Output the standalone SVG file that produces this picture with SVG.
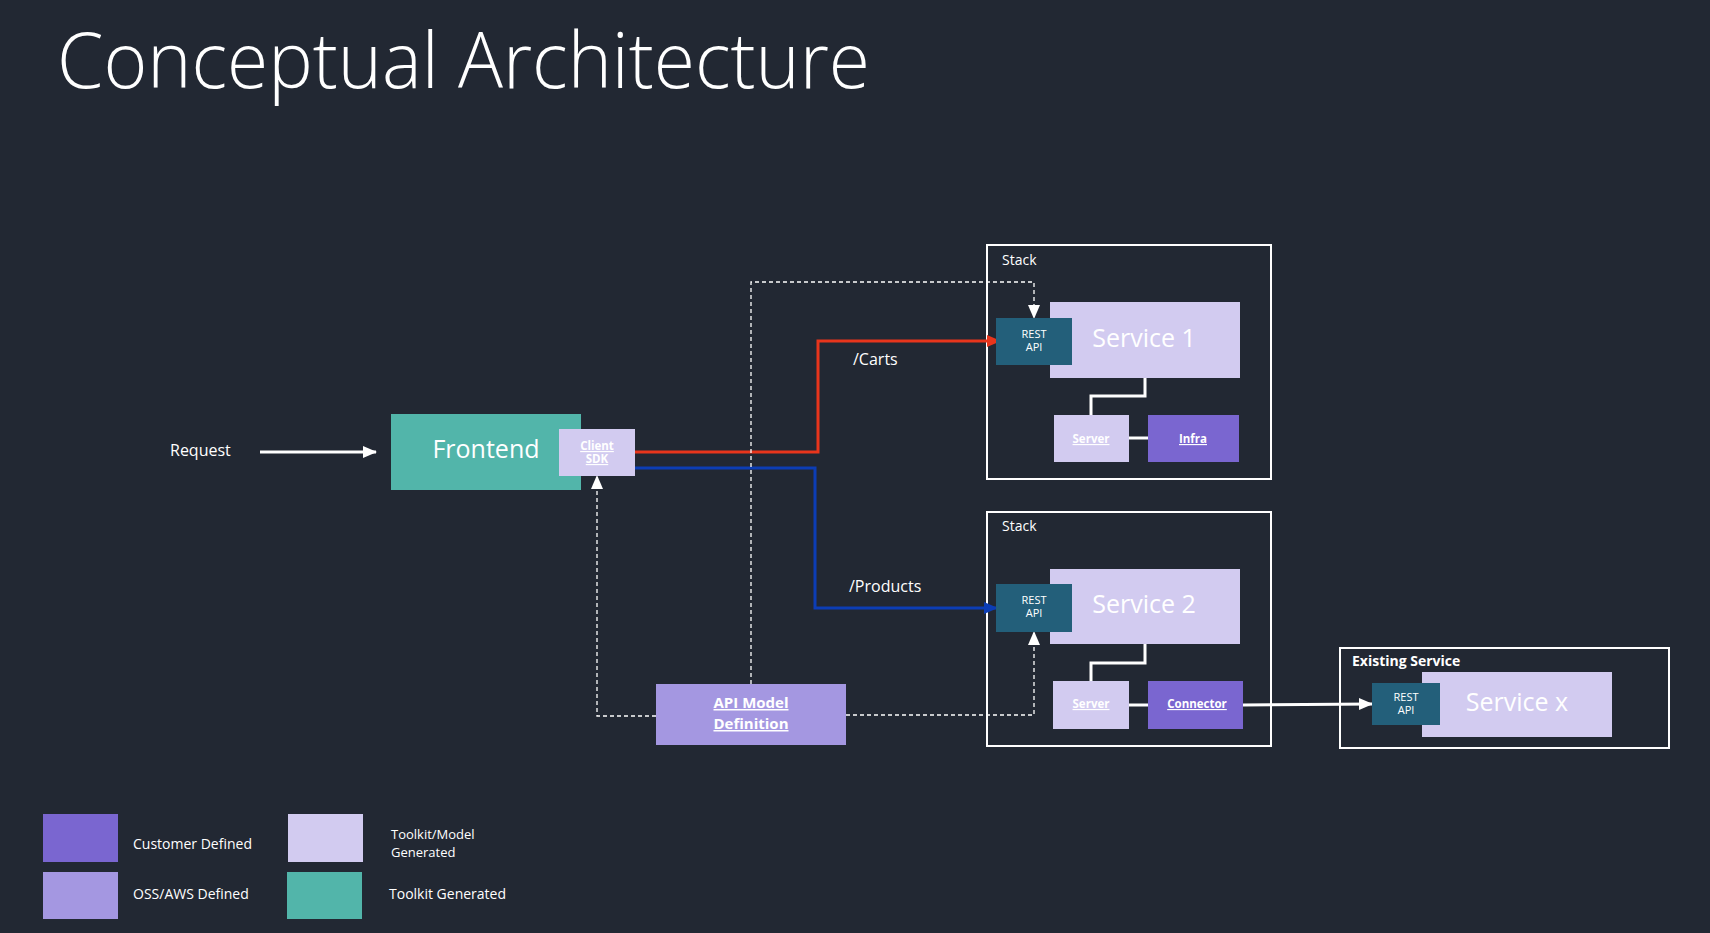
<svg xmlns="http://www.w3.org/2000/svg" width="1710" height="933" viewBox="0 0 1710 933">
<defs>
<style>
text{font-family:"Open Sans","Noto Sans","Liberation Sans",sans-serif;fill:#ffffff}
.title{font-size:78px;font-weight:300}
.big{font-size:25px;text-anchor:middle}
.lbl{font-size:16px}
.small{font-size:14px}
.api{font-size:11px;text-anchor:middle}
.ul{font-size:11.5px;font-weight:700;text-anchor:middle;text-decoration:underline}
.stack{fill:none;stroke:#ffffff;stroke-width:2}
.dash{fill:none;stroke:#ffffff;stroke-width:1.3;stroke-dasharray:4 3}
.wl{fill:none;stroke:#ffffff;stroke-width:3}
.gen{fill:#d2cbf0}
.cust{fill:#7a66d0}
.oss{fill:#a497e1}
.tk{fill:#52b5aa}
.rest{fill:#235f7a}
</style>
<marker id="aw" markerUnits="userSpaceOnUse" markerWidth="14" markerHeight="14" viewBox="0 0 14 14" refX="13" refY="7" orient="auto"><path d="M0,1 L14,7 L0,13 Z" fill="#ffffff"/></marker>
<marker id="ar" markerUnits="userSpaceOnUse" markerWidth="14" markerHeight="14" viewBox="0 0 14 14" refX="13" refY="7" orient="auto"><path d="M0,1 L14,7 L0,13 Z" fill="#e8351c"/></marker>
<marker id="ab" markerUnits="userSpaceOnUse" markerWidth="14" markerHeight="14" viewBox="0 0 14 14" refX="13" refY="7" orient="auto"><path d="M0,1 L14,7 L0,13 Z" fill="#0c3db5"/></marker>
</defs>
<rect width="1710" height="933" fill="#222833"/>
<text class="title" x="57" y="88" textLength="813" lengthAdjust="spacingAndGlyphs">Conceptual Architecture</text>

<g id="stack1"><rect class="stack" x="987" y="245" width="284" height="234"/><text class="small" x="1002" y="265">Stack</text></g>
<g id="stack2"><rect class="stack" x="987" y="512" width="284" height="234"/><text class="small" x="1002" y="531">Stack</text></g>
<g id="existing"><rect class="stack" x="1340" y="648" width="329" height="100"/><text class="small" x="1352" y="666" font-weight="700">Existing Service</text></g>

<g id="connectors">
<line class="wl" x1="260" y1="452" x2="376" y2="452" marker-end="url(#aw)"/>
<polyline fill="none" stroke="#e8351c" stroke-width="3" points="635,452 818,452 818,341 1000,341" marker-end="url(#ar)"/>
<polyline fill="none" stroke="#0c3db5" stroke-width="3" points="635,468 815,468 815,608 997,608" marker-end="url(#ab)"/>
<polyline class="dash" points="751,684 751,282 1034,282 1034,318" marker-end="url(#aw)"/>
<polyline class="dash" points="656,716 597,716 597,476" marker-end="url(#aw)"/>
<polyline class="dash" points="846,715 1034,715 1034,632" marker-end="url(#aw)"/>
<polyline class="wl" points="1145,378 1145,396 1091,396 1091,415"/>
<line class="wl" x1="1129" y1="438" x2="1148" y2="438"/>
<polyline class="wl" points="1145,644 1145,663 1091,663 1091,681"/>
<line class="wl" x1="1129" y1="705" x2="1148" y2="705"/>
<line class="wl" x1="1243" y1="705" x2="1372" y2="704" marker-end="url(#aw)"/>
</g>

<g id="request"><text class="lbl" x="170" y="456">Request</text></g>
<g id="carts-label"><text class="lbl" x="853" y="365">/Carts</text></g>
<g id="products-label"><text class="lbl" x="849" y="592">/Products</text></g>

<g id="frontend"><rect class="tk" x="391" y="414" width="190" height="76"/><text class="big" x="486" y="458">Frontend</text></g>
<g id="client-sdk"><rect class="gen" x="559" y="429" width="76" height="47"/><text class="ul" x="597" y="450">Client</text><text class="ul" x="597" y="463">SDK</text></g>

<g id="service1"><rect class="gen" x="1050" y="302" width="190" height="76"/><text class="big" x="1144" y="347">Service 1</text></g>
<g id="rest1"><rect class="rest" x="996" y="318" width="76" height="47"/><text class="api" x="1034" y="338">REST</text><text class="api" x="1034" y="351">API</text></g>
<g id="server1"><rect class="gen" x="1054" y="415" width="75" height="47"/><text class="ul" x="1091" y="443">Server</text></g>
<g id="infra"><rect class="cust" x="1148" y="415" width="91" height="47"/><text class="ul" x="1193" y="443">Infra</text></g>

<g id="service2"><rect class="gen" x="1050" y="569" width="190" height="75"/><text class="big" x="1144" y="613">Service 2</text></g>
<g id="rest2"><rect class="rest" x="996" y="584" width="76" height="48"/><text class="api" x="1034" y="604">REST</text><text class="api" x="1034" y="617">API</text></g>
<g id="server2"><rect class="gen" x="1053" y="681" width="76" height="48"/><text class="ul" x="1091" y="708">Server</text></g>
<g id="connector"><rect class="cust" x="1148" y="681" width="95" height="48"/><text class="ul" x="1197" y="708">Connector</text></g>

<g id="servicex"><rect class="gen" x="1422" y="672" width="190" height="65"/><text class="big" x="1517" y="711">Service x</text></g>
<g id="restx"><rect class="rest" x="1372" y="683" width="68" height="42"/><text class="api" x="1406" y="701">REST</text><text class="api" x="1406" y="714">API</text></g>

<g id="api-model"><rect class="oss" x="656" y="684" width="190" height="61"/><text class="ul" x="751" y="708" style="font-size:15px">API Model</text><text class="ul" x="751" y="729" style="font-size:15px">Definition</text></g>

<g id="legend">
<rect class="cust" x="43" y="814" width="75" height="48"/><text class="small" x="133" y="849">Customer Defined</text>
<rect class="oss" x="43" y="872" width="75" height="47"/><text class="small" x="133" y="899">OSS/AWS Defined</text>
<rect class="gen" x="288" y="814" width="75" height="48"/><text x="391" y="839" style="font-size:13px">Toolkit/Model</text><text x="391" y="857" style="font-size:13px">Generated</text>
<rect class="tk" x="287" y="872" width="75" height="47"/><text class="small" x="389" y="899">Toolkit Generated</text>
</g>
</svg>
